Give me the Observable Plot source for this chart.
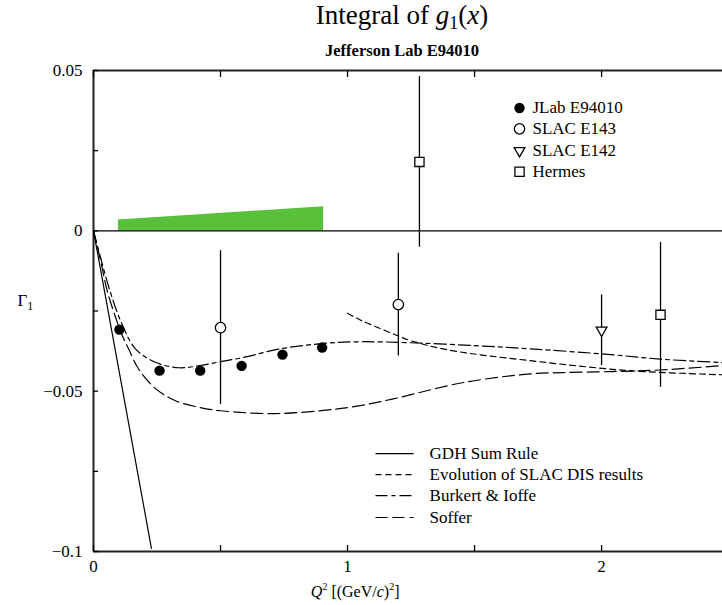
<!DOCTYPE html>
<html><head><meta charset="utf-8">
<script src="https://cdn.jsdelivr.net/npm/d3@7"></script>
<script src="https://cdn.jsdelivr.net/npm/@observablehq/plot@0.6"></script>
<style>body{margin:0;background:#fff;} #chart{width:722px;height:605px;overflow:hidden;}
#chart svg, #chart svg text { font-family: "Liberation Serif", "Times New Roman", Times, serif !important; }</style>
</head><body><div id="chart"></div>
<script>
// ---- data ----
const jlabQ2 = [0.102, 0.26, 0.42, 0.583, 0.744, 0.90];
const jlabG1 = [-0.0308, -0.0436, -0.0436, -0.0421, -0.0386, -0.0364];
const e143Q2 = [0.5, 1.2];
const e143G1 = [-0.0302, -0.0230];
const e143Err = [0.024, 0.016];
const e142Q2 = [2.0];
const e142G1 = [-0.031];
const e142Err = [0.011];
const hermesQ2 = [1.283, 2.232];
const hermesG1 = [0.0215, -0.0262];
const hermesErr = [0.0266, 0.0226];
const sysQ2 = [0.098, 0.906];
const sysTop = [0.0034, 0.0075];
const gdhQ2 = [0, 0.228];
const gdhG1 = [0, -0.099];
const evolQ2 = [1.0, 1.05, 1.13, 1.2, 1.25, 1.4, 1.72, 2.11, 2.48];
const evolG1 = [-0.0257, -0.0278, -0.0305, -0.0328, -0.0343, -0.0372, -0.0405, -0.0436, -0.0449];
const biQ2 = [0, 0.03, 0.067, 0.11, 0.165, 0.244, 0.335, 0.42, 0.5, 0.583, 0.736, 0.894, 1.04, 1.248, 1.5, 1.72, 2.035, 2.23, 2.48];
const biG1 = [0, -0.009, -0.0193, -0.0287, -0.0368, -0.041, -0.0427, -0.042, -0.0408, -0.0396, -0.0368, -0.0352, -0.0346, -0.0349, -0.0358, -0.0368, -0.0386, -0.0400, -0.0411];
const sofQ2 = [0, 0.03, 0.055, 0.11, 0.138, 0.177, 0.244, 0.323, 0.413, 0.5, 0.71, 0.906, 1.05, 1.18, 1.457, 1.72, 1.85, 2.035, 2.23, 2.48];
const sofG1 = [0, -0.010, -0.019, -0.032, -0.0368, -0.043, -0.0492, -0.0530, -0.0550, -0.0561, -0.057, -0.056, -0.0545, -0.0524, -0.0473, -0.0446, -0.0442, -0.0439, -0.0434, -0.0420];

const xTicks = [0, 0.5, 1, 1.5, 2];
const xTickLabels = [0, 1, 2];
const yTicks = [0.05, 0.025, 0, -0.025, -0.05, -0.075, -0.1];
const yTickLabels = [0.05, 0, -0.05, -0.1];

const markerNames = ["JLab E94010", "SLAC E143", "SLAC E142", "Hermes"];
const lineNames = ["GDH Sum Rule", "Evolution of SLAC DIS results", "Burkert & Ioffe", "Soffer"];

// ---- layout constants ----
const serif = "Liberation Serif";
const legend1Y = [0.0383, 0.0318, 0.0250, 0.0184];
const legend1SymX = 1.677, legend1TextX = 1.728;
const legend2Y = [-0.0695, -0.0760, -0.0826, -0.0894];
const legend2X1 = 1.110, legend2X2 = 1.260, legend2TextX = 1.323;
const dashes = [null, "6,4", "12,4,4,4", "12,5"];
const lw = 1.2;

const zip = (xs, ys, es) => xs.map((q, i) => ({q, g: ys[i], e: es ? es[i] : 0}));
const jlab = zip(jlabQ2, jlabG1);
const e143 = zip(e143Q2, e143G1, e143Err);
const e142 = zip(e142Q2, e142G1, e142Err);
const hermes = zip(hermesQ2, hermesG1, hermesErr);
const sys = zip(sysQ2, sysTop);
const curves = [zip(gdhQ2, gdhG1), zip(evolQ2, evolG1), zip(biQ2, biG1), zip(sofQ2, sofG1)];

const curveMarks = curves.map((c, i) => Plot.line(c, {
  x: "q", y: "g", stroke: "#000", strokeWidth: lw,
  strokeDasharray: dashes[i], curve: i === 0 ? "linear" : "catmull-rom"
}));
const legendLineMarks = lineNames.map((n, i) => Plot.link([n], {
  x1: () => legend2X1, x2: () => legend2X2, y1: () => legend2Y[i], y2: () => legend2Y[i],
  stroke: "#000", strokeWidth: lw, strokeDasharray: dashes[i]
}));

const sym = [
  {symbol: "circle", fill: "#000", stroke: "none", r: 5.2, rotate: 0},
  {symbol: "circle", fill: "#fff", stroke: "#000", r: 5.2, rotate: 0},
  {symbol: "triangle", fill: "#fff", stroke: "#000", r: 4.0, rotate: 180},
  {symbol: "square", fill: "#fff", stroke: "#000", r: 5.2, rotate: 0}
];
const legendSymMarks = markerNames.map((n, i) => Plot.dot([n], {
  x: () => legend1SymX, y: () => legend1Y[i], strokeWidth: 1.3, ...sym[i]
}));

const errMark = (d) => Plot.ruleX(d, {x: "q", y1: (r) => r.g - r.e, y2: (r) => r.g + r.e, stroke: "#000", strokeWidth: 1.3});

const plot = Plot.plot({
  width: 722, height: 605,
  marginLeft: 93, marginRight: 0, marginTop: 70, marginBottom: 54,
  x: {domain: [0, 2.476]},
  y: {domain: [-0.1, 0.05]},
  style: {fontFamily: serif, background: "#fff", color: "#000"},
  marks: [
    Plot.areaY(sys, {x: "q", y1: 0, y2: "g", fill: "#58c03a"}),
    Plot.ruleY([0], {stroke: "#000", strokeWidth: 1.3}),
    Plot.ruleY([0.05], {stroke: "#222", strokeWidth: 2}),
    Plot.ruleY([-0.1], {stroke: "#222", strokeWidth: 2}),
    Plot.ruleX([0], {stroke: "#222", strokeWidth: 2}),
    Plot.axisX({anchor: "bottom", ticks: xTicks, tickSize: -6, tickFormat: () => "", strokeWidth: 1.3, label: null}),
    Plot.axisX({anchor: "top", ticks: xTicks, tickSize: -6, tickFormat: () => "", strokeWidth: 1.3, label: null}),
    Plot.axisX({anchor: "bottom", ticks: xTickLabels, tickSize: 0, tickPadding: 8, fontSize: 17, fontFamily: serif, label: null, tickFormat: d3.format("d")}),
    Plot.axisY({anchor: "left", ticks: yTicks, tickSize: -5, tickFormat: () => "", strokeWidth: 1.3, label: null}),
    Plot.axisY({anchor: "left", ticks: yTickLabels, tickSize: 0, tickPadding: 11, fontSize: 17, fontFamily: serif, label: null,
      tickFormat: (d) => d === 0 ? "0" : d3.format("~g")(d)}),
    ...curveMarks,
    errMark(e143), errMark(e142), errMark(hermes),
    Plot.dot(jlab, {x: "q", y: "g", ...sym[0]}),
    Plot.dot(e143, {x: "q", y: "g", strokeWidth: 1.3, ...sym[1]}),
    Plot.dot(e142, {x: "q", y: "g", strokeWidth: 1.3, ...sym[2]}),
    Plot.dot(hermes, {x: "q", y: "g", strokeWidth: 1.3, ...sym[3]}),
    ...legendSymMarks,
    Plot.text(markerNames, {x: () => legend1TextX, y: (d, i) => legend1Y[i], text: (d) => d,
      textAnchor: "start", lineAnchor: "middle", fontSize: 17, fontFamily: serif}),
    ...legendLineMarks,
    Plot.text(lineNames, {x: () => legend2TextX, y: (d, i) => legend2Y[i], text: (d) => d,
      textAnchor: "start", lineAnchor: "middle", fontSize: 17, fontFamily: serif}),
    Plot.text(["Integral of g1(x)"], {frameAnchor: "top", dx: -6, dy: -47, lineAnchor: "bottom",
      fontSize: 27, fontFamily: serif, className: "rt-title"}),
    Plot.text(["Jefferson Lab E94010"], {frameAnchor: "top", dx: -6, dy: -15, lineAnchor: "bottom",
      fontSize: 16.5, fontWeight: "bold", fontFamily: serif}),
    Plot.text(["Q2 [(GeV/c)2]"], {x: () => 1.03, frameAnchor: "bottom", dy: 45, lineAnchor: "bottom",
      fontSize: 16, fontFamily: serif, className: "rt-xlabel"}),
    Plot.text(["Γ1"], {frameAnchor: "left", dx: -76, dy: -10, textAnchor: "start", lineAnchor: "middle",
      fontSize: 17, fontFamily: serif, className: "rt-ylabel"})
  ]
});
document.getElementById("chart").appendChild(plot);

// rich text (italic, sub/superscripts)
const rich = {
  "rt-title": 'Integral of <tspan font-style="italic">g</tspan><tspan font-size="18" dy="5">1</tspan><tspan dy="-5">(</tspan><tspan font-style="italic">x</tspan>)',
  "rt-xlabel": '<tspan font-style="italic">Q</tspan><tspan font-size="10" dy="-7">2</tspan><tspan dy="7"> [(GeV/</tspan><tspan font-style="italic">c</tspan>)<tspan font-size="10" dy="-7">2</tspan><tspan dy="7">]</tspan>',
  "rt-ylabel": 'Γ<tspan font-size="12" dy="4">1</tspan>'
};
for (const [cls, html] of Object.entries(rich)) {
  d3.select(plot).selectAll(`.${cls} text`).each(function() { this.innerHTML = html; });
}
</script>
</body></html>
